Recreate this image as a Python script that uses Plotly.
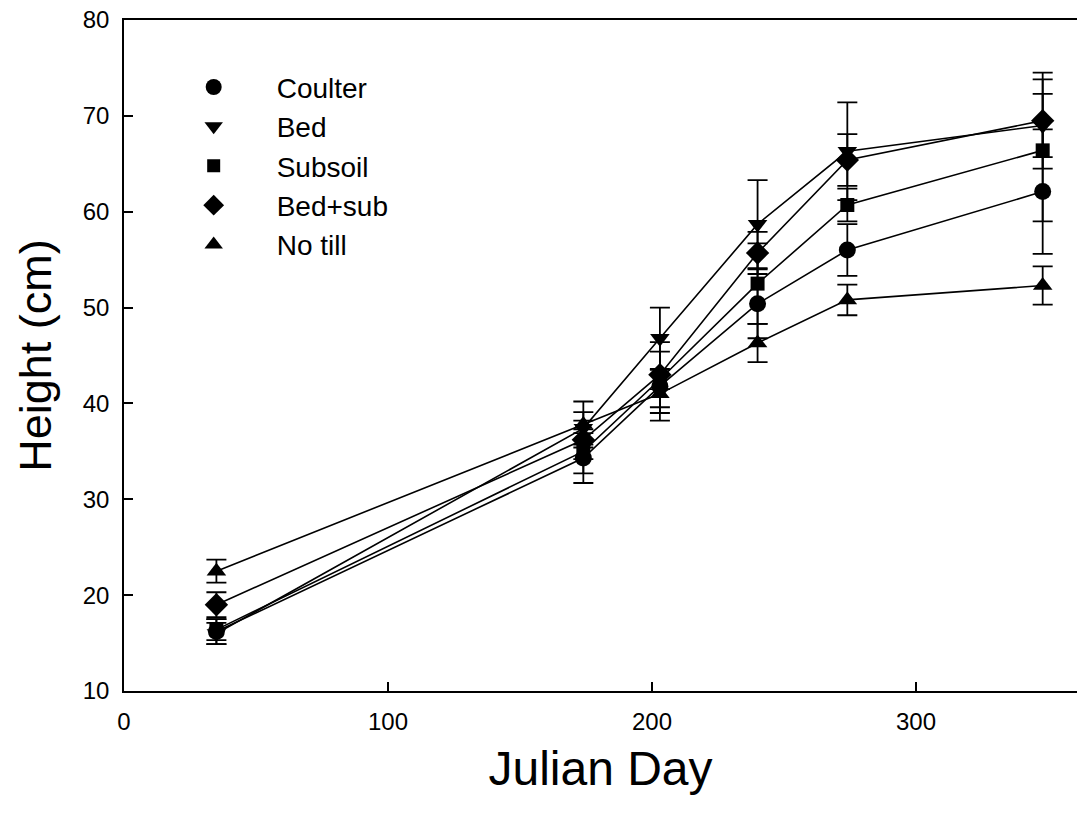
import plotly.graph_objects as go

# Sampling days (Julian day)
days = [35, 174, 203, 240, 274, 348]

# Mean plant height (cm) per tillage treatment
coulter = [16.2, 34.3, 41.8, 50.4, 56.0, 62.1]
bed = [16.0, 37.4, 46.8, 58.7, 66.3, 69.0]
subsoil = [16.4, 35.0, 42.5, 52.5, 60.7, 66.4]
bed_sub = [19.0, 36.2, 43.0, 55.7, 65.4, 69.5]
no_till = [22.5, 37.8, 41.0, 46.3, 50.8, 52.3]

# Standard errors (cm)
coulter_err = [1.3, 2.6, 3.6, 3.6, 2.7, 6.5]
bed_err = [1.1, 1.7, 3.2, 4.6, 5.1, 3.3]
subsoil_err = [1.1, 2.3, 1.0, 4.2, 1.7, 7.4]
bed_sub_err = [1.3, 2.0, 3.4, 2.2, 2.7, 5.0]
no_till_err = [1.2, 2.4, 2.0, 2.0, 1.6, 2.0]

series = [
    ("Coulter", coulter, coulter_err, "circle", 17),
    ("Bed", bed, bed_err, "triangle-down", 17),
    ("Subsoil", subsoil, subsoil_err, "square", 14),
    ("Bed+sub", bed_sub, bed_sub_err, "diamond", 18),
    ("No till", no_till, no_till_err, "triangle-up", 17),
]

FONT = "Liberation Sans, Arial, sans-serif"

fig = go.Figure()

for name, vals, errs, sym, size in series:
    fig.add_trace(go.Scatter(
        x=days, y=vals, mode="lines+markers", name=name, showlegend=False,
        line=dict(color="black", width=1.6),
        marker=dict(symbol=sym, size=size, color="black"),
        error_y=dict(type="data", array=errs, visible=True,
                     color="black", thickness=1.8, width=10),
    ))

# Legend entries show the symbol only
for name, vals, errs, sym, size in series:
    fig.add_trace(go.Scatter(
        x=[None], y=[None], mode="markers", name=name,
        marker=dict(symbol=sym, size=size - 1, color="black"),
    ))

axis_font = dict(family=FONT, size=24, color="black")

fig.update_layout(
    width=1077, height=814,
    margin=dict(l=124, r=0, t=20, b=123),
    paper_bgcolor="white", plot_bgcolor="white",
    font=dict(family=FONT, color="black"),
    showlegend=True,
    legend=dict(
        x=0.028, y=0.937, xanchor="left", yanchor="top",
        font=dict(family=FONT, size=28, color="black"),
        bgcolor="rgba(0,0,0,0)", itemwidth=116, tracegroupgap=0,
    ),
    xaxis=dict(
        range=[0, 361], tickvals=[0, 100, 200, 300],
        ticks="inside", ticklen=9, tickwidth=1.5, tickcolor="black",
        showline=True, linecolor="black", linewidth=1.5, mirror=True,
        showgrid=False, zeroline=False, tickfont=axis_font,
        ticklabelstandoff=8,
        title=dict(text="Julian Day", font=dict(size=48, family=FONT), standoff=18),
    ),
    yaxis=dict(
        range=[10, 80], tickvals=[10, 20, 30, 40, 50, 60, 70, 80],
        ticks="inside", ticklen=9, tickwidth=1.5, tickcolor="black",
        showline=True, linecolor="black", linewidth=1.5,
        showgrid=False, zeroline=False, tickfont=axis_font,
        ticklabelstandoff=8,
        title=dict(text="Height (cm)", font=dict(size=45, family=FONT), standoff=17),
    ),
)

fig.write_html("out.html")
